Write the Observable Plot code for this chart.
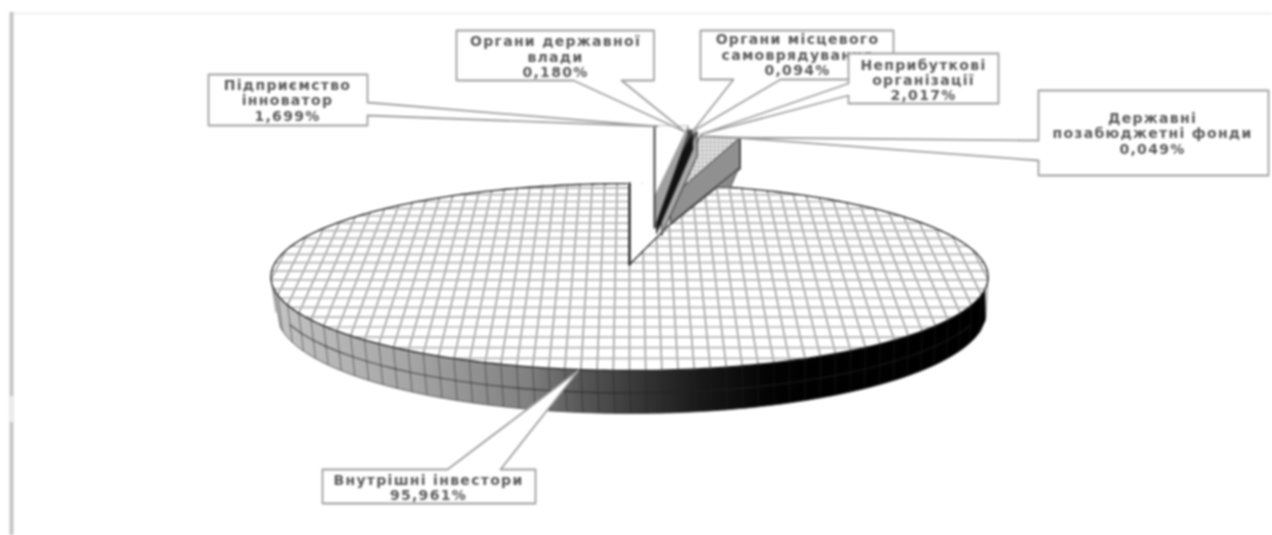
<!DOCTYPE html>
<html lang="uk">
<head>
<meta charset="utf-8">
<script src="https://cdn.jsdelivr.net/npm/d3@7"></script>
<script src="https://cdn.jsdelivr.net/npm/@observablehq/plot@0.6"></script>
<style>
html,body{margin:0;padding:0;background:#fff;}
svg{display:block;filter:blur(0.85px);}
</style>
</head>
<body>
<div id="chart"></div>
<script>
// ---- data ----
const categories = ["Внутрішні інвестори","Підприємство інноватор","Органи державної влади","Органи місцевого самоврядування","Неприбуткові організації","Державні позабюджетні фонди"];
const shares = [95.961, 1.699, 0.180, 0.094, 2.017, 0.049];
const valueLabels = ["95,961%","1,699%","0,180%","0,094%","2,017%","0,049%"];
const labelLines = [
  ["Внутрішні інвестори"],
  ["Підприємство","інноватор"],
  ["Органи державної","влади"],
  ["Органи місцевого","самоврядування"],
  ["Неприбуткові","організації"],
  ["Державні","позабюджетні фонди"]
];

// ---- layout (chart space = page pixels) ----
const W = 1272, H = 535;
const apex0 = [629, 264], persp = 0.134, a = 355.3, b = 91.8;
const project = (u, v) => {
  const w = 1 + persp * v;
  return [apex0[0] + a * u / w, apex0[1] - b * v / w];
};
const rimPoint = deg => {
  const t = deg * Math.PI / 180;
  return project(Math.sin(t), Math.cos(t));
};
const botEll = {cx: 631, cy: 312, rx: 355, ry: 101};
const topEll = {cx: 629.5, rx: 358.5};
const ellLow = (e, x) => e.cy + e.ry * Math.sqrt(Math.max(0, 1 - ((x - e.cx) / e.rx) ** 2));

// exploded small slices: rim offset, apex, wall heights, wall colour, face fill
const explode = [
  null,
  {off:[25,-58], apex:[654,196], dr:9, da:32, wall:"#a0a0a0", face:"#fff"},
  {off:[26.5,-54], apex:[656,199], dr:19, da:34, wall:"#111", face:"#444"},
  {off:[29,-52], apex:[661,203], dr:24, da:32, wall:"#a8a8a8", face:"#666"},
  {off:[32,-48], apex:[670,197], dr:30, da:26, wall:"#909090", face:"url(#fine)"},
  {off:[32,-47], apex:[670,198], dr:30, da:26, wall:"#888", face:"#888"}
];

// callouts: box [x0,y0,x1,y1], pointer base on a side, tip, text centre and row positions
const callouts = [
  {i:1, box:[208,74,367,125], side:"right", base:[102,115], tip:[657,126], tx:287, ty:[85,100,116]},
  {i:2, box:[456,30,653.5,80], side:"bottom", base:[573,621], tip:[684,131], tx:555, ty:[41,57,72]},
  {i:3, box:[700,30,893,79], side:"bottom", base:[733,780], tip:[692,131], tx:797, ty:[39,55,70]},
  {i:4, box:[848,53,998,103], side:"left", base:[83,95], tip:[700,134], tx:923, ty:[65,80,95]},
  {i:5, box:[1038,90,1268,175], side:"left", base:[140,160], tip:[733,137], tx:1152, ty:[118,133,149]},
  {i:0, box:[322,469,535,503], side:"top", base:[447,500], tip:[578,370], tx:428, ty:[480,495]}
];

const gridDU = 0.0395, gridDV = 0.092;

// ---- derived geometry from the shares ----
const cum = [];
let run = 0;
for (let k = 1; k < shares.length; k++) { cum.push(run); run += shares[k] * 3.6; }
const gap = run; // degrees taken by all the small slices
const mainRim = d3.range(gap, 360.01, 1).map(rimPoint);
const fullRim = d3.range(0, 360, 1).map(rimPoint);
const gapPoly = [apex0, ...d3.range(-0.3, gap + 0.3, 0.5).map(rimPoint)];

// disc grid seen through the projection
const gridLines = [];
d3.range(-25, 26).forEach(i => {
  const u = i * gridDU, m = Math.sqrt(1 - u * u);
  d3.range(-1, 1.001, 0.1).forEach(s => {
    const p = project(u, s * m);
    gridLines.push({id: "u" + i, x: p[0], y: p[1]});
  });
});
d3.range(-10, 11).forEach(j => {
  const v = j * gridDV + 0.02, m = Math.sqrt(1 - v * v);
  d3.range(-1, 1.001, 0.1).forEach(s => {
    const p = project(s * m, v);
    gridLines.push({id: "v" + j, x: p[0], y: p[1]});
  });
});
const uLines = gridLines.filter(d => d.id[0] === "u"), vLines = gridLines.filter(d => d.id[0] === "v");

const wallTop = d3.range(255, 104, -1).map(rimPoint);
const wallBot = d3.range(botEll.cx + botEll.rx - 1, botEll.cx - botEll.rx, -5).map(x => [x, ellLow(botEll, x)]);
const wallPoly = [...wallTop, ...wallBot];
const wallRules = d3.range(-25, 26).map(i => {
  const u = i * gridDU, p = project(u, -Math.sqrt(1 - u * u));
  const x2 = botEll.cx + (p[0] - topEll.cx) * botEll.rx / topEll.rx;
  return {x1: p[0], y1: p[1], x2, y2: ellLow(botEll, x2)};
});
const midLine = wallRules.filter(d => d.x1 > 280 && d.x1 < 980)
  .map(d => [(d.x1 + d.x2) / 2, (d.y1 + d.y2) / 2 + 1]);

const polygon = (pts, o) => Plot.line(pts, {x: d => d[0], y: d => d[1], curve: "linear-closed", ...o});

const sliceMarks = [];
for (let k = 5; k >= 1; k--) {
  const s = explode[k], from = cum[k - 1], to = from + shares[k] * 3.6;
  const rim = d3.range(from, to + 0.001, Math.max(0.05, (to - from) / 8)).map(rimPoint).map(p => [p[0] + s.off[0], p[1] + s.off[1]]);
  const r2 = rim[rim.length - 1], r1 = rim[0];
  if (k === 4) sliceMarks.push(polygon([[738,168],[730,187],[708,187],[690,205]], {fill: "#8a8a8a", stroke: "#555", strokeWidth: 1}));
  sliceMarks.push(polygon([s.apex, [s.apex[0], s.apex[1] + s.da], [r1[0], r1[1] + 3], r1], {fill: k === 1 ? "#fff" : s.wall, stroke: "#444", strokeWidth: 0.8}));
  sliceMarks.push(polygon([r2, s.apex, [s.apex[0], s.apex[1] + s.da], [r2[0], r2[1] + s.dr]], {fill: s.wall, stroke: "#444", strokeWidth: 1.1}));
  sliceMarks.push(polygon([s.apex, ...rim], {fill: s.face, stroke: k === 1 ? "#bbb" : "#555", strokeWidth: 1}));
  if (k === 1) sliceMarks.push(Plot.ruleX([s.apex[0]], {y1: rim[0][1], y2: s.apex[1] + s.da, stroke: "#444", strokeWidth: 2}));
}

function calloutPoly(c) {
  const [x0, y0, x1, y1] = c.box, [p, q] = c.base;
  if (c.side === "right") return [[x0,y0],[x1,y0],[x1,p],c.tip,[x1,q],[x1,y1],[x0,y1]];
  if (c.side === "left") return [[x0,y0],[x1,y0],[x1,y1],[x0,y1],[x0,q],c.tip,[x0,p]];
  if (c.side === "bottom") return [[x0,y0],[x1,y0],[x1,y1],[q,y1],c.tip,[p,y1],[x0,y1]];
  return [[x0,y0],[p,y0],c.tip,[q,y0],[x1,y0],[x1,y1],[x0,y1]];
}
const calloutMarks = callouts.flatMap(c => {
  const rows = [...labelLines[c.i], valueLabels[c.i]].map((t, j) => ({t, y: c.ty[j]}));
  return [
    polygon(calloutPoly(c), {fill: "#fff", stroke: "#a0a0a0", strokeWidth: 1.8}),
    Plot.text(rows, {x: () => c.tx, y: "y", text: "t", fill: "#5a5a5a", fontSize: 14, fontWeight: "bold", textAnchor: "middle", lineAnchor: "middle"})
  ];
});

const defs = () => {
  const d = d3.create("svg:defs");
  const f = d.append("pattern").attr("id", "fine").attr("patternUnits", "userSpaceOnUse").attr("width", 4).attr("height", 4);
  f.append("rect").attr("width", 4).attr("height", 4).attr("fill", "#fff");
  f.append("path").attr("d", "M2 0V4M0 2H4").attr("stroke", "#999").attr("stroke-width", 1);
  const l = d.append("linearGradient").attr("id", "wallShade").attr("gradientUnits", "userSpaceOnUse")
    .attr("x1", 271).attr("x2", 988).attr("y1", 0).attr("y2", 0);
  [[0,"#c4c4c4"],[0.2,"#a4a4a4"],[0.36,"#808080"],[0.43,"#585858"],[0.52,"#343434"],[0.6,"#181818"],[0.7,"#020202"],[1,"#000"]]
    .forEach(([o, c]) => l.append("stop").attr("offset", o).attr("stop-color", c));
  return d.node();
};

const chart = Plot.plot({
  width: W, height: H, margin: 0,
  x: {domain: [0, W], axis: null},
  y: {domain: [H, 0], axis: null},
  style: {background: "#fff", fontFamily: "'DejaVu Sans'", letterSpacing: "1.3px"},
  marks: [
    defs,
    Plot.ruleY([13], {x1: 12, x2: 1272, stroke: "#efefef", strokeWidth: 2}),
    Plot.ruleX([11], {y1: 12, y2: 535, stroke: "#c4c4c4", strokeWidth: 4}),
    Plot.ruleX([11], {y1: 396, y2: 422, stroke: "#ececec", strokeWidth: 4}),
    polygon(wallPoly, {fill: "url(#wallShade)", stroke: "#444", strokeWidth: 0.8}),
    Plot.link(wallRules, {x1: "x1", y1: "y1", x2: "x2", y2: "y2", stroke: "#222", strokeWidth: 1, strokeOpacity: 0.5}),
    Plot.line(midLine, {x: d => d[0], y: d => d[1], stroke: "#222", strokeWidth: 1.2, strokeOpacity: 0.7}),
    polygon(fullRim, {fill: "#fff"}),
    Plot.line(uLines, {x: "x", y: "y", z: "id", stroke: "#9a9a9a", strokeWidth: 1.5}),
    Plot.line(vLines, {x: "x", y: "y", z: "id", stroke: "#b4b4b4", strokeWidth: 1.7}),
    polygon(gapPoly, {fill: "#fff"}),
    Plot.line([apex0, ...mainRim], {x: d => d[0], y: d => d[1], stroke: "#222", strokeWidth: 1.3}),
    Plot.line([apex0, rimPoint(360)], {x: d => d[0], y: d => d[1], stroke: "#222", strokeWidth: 2.4}),
    ...sliceMarks,
    ...calloutMarks
  ]
});
document.getElementById("chart").append(chart);
</script>
</body>
</html>
